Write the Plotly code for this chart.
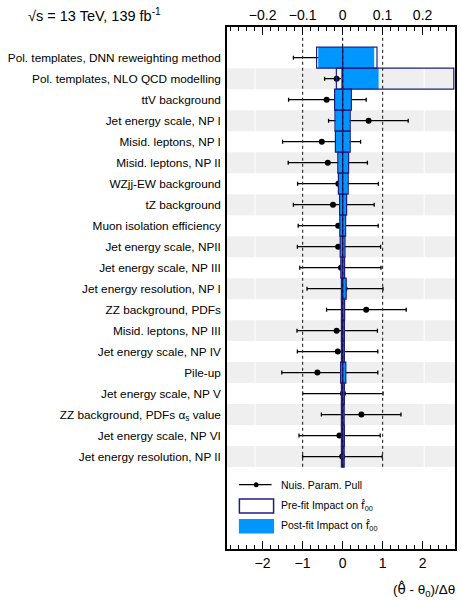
import plotly.graph_objects as go

labels = [
    "Pol. templates, DNN reweighting method",
    "Pol. templates, NLO QCD modelling",
    "ttV background",
    "Jet energy scale, NP I",
    "Misid. leptons, NP I",
    "Misid. leptons, NP II",
    "WZjj-EW background",
    "tZ background",
    "Muon isolation efficiency",
    "Jet energy scale, NPII",
    "Jet energy scale, NP III",
    "Jet energy resolution, NP I",
    "ZZ background, PDFs",
    "Misid. leptons, NP III",
    "Jet energy scale, NP IV",
    "Pile-up",
    "Jet energy scale, NP V",
    "ZZ background, PDFs α<sub>s</sub> value",
    "Jet energy scale, NP VI",
    "Jet energy resolution, NP II",
]
rows = list(range(len(labels)))

pull = [-0.39, -0.15, -0.40, 0.65, -0.52, -0.37, -0.105, -0.24, -0.11, -0.11,
        -0.04, 0.05, 0.59, -0.15, -0.12, -0.63, 0.01, 0.47, -0.08, -0.01]
pull_err_lo = [0.84, 0.30, 0.95, 1.00, 0.98, 0.99, 1.02, 0.99, 1.00, 1.02,
               1.03, 0.94, 0.99, 0.99, 1.01, 0.89, 1.01, 1.00, 1.01, 0.99]
pull_err_hi = [0.89, 0.46, 0.99, 0.99, 0.97, 0.99, 1.00, 1.03, 1.00, 1.06,
               1.00, 0.96, 1.00, 1.02, 1.00, 1.51, 1.00, 0.99, 1.02, 1.00]

prefit_up = [0.086, 0.278, 0.022, 0.019, 0.019, 0.015, 0.014, 0.010, 0.0075, 0.006,
             0.005, 0.009, 0.005, 0.0045, 0.0045, 0.008, 0.0045, 0.004, 0.0045, 0.004]
prefit_dn = [-0.065, -0.0156, -0.020, -0.019, -0.018, -0.012, -0.0105, -0.0075, -0.007, -0.006,
             -0.0045, -0.003, -0.003, -0.003, -0.003, -0.005, -0.003, -0.003, -0.003, -0.003]
postfit_up = [0.079, 0.090, 0.021, 0.018, 0.018, 0.014, 0.013, 0.0095, 0.007, 0.0055,
              0.0045, 0.009, 0.0045, 0.004, 0.004, 0.008, 0.004, 0.0035, 0.004, 0.0035]
postfit_dn = [-0.061, -0.003, -0.019, -0.018, -0.017, -0.011, -0.010, -0.007, -0.0065, -0.0055,
              -0.004, -0.0025, -0.0025, -0.0025, -0.0025, -0.0045, -0.0025, -0.0025, -0.0025, -0.0025]

pull_ticks = [-2, -1, 0, 1, 2]
impact_ticks = [-0.2, -0.1, 0, 0.1, 0.2]

W, H = 461, 600
L, R, T, B = 227, 4, 27, 51
PW, PH = W - L - R, H - T - B


def px2x(px):
    return (px - L) / PW


def px2y(py):
    return 1 - (py - T) / PH


FONT = "Liberation Sans, Arial, Helvetica, sans-serif"
HATFONT = "DejaVu Sans"
BLUE = "rgb(0,150,255)"
NAVY = "#1e1e82"

xr = [-2.89, 2.81]

fig = go.Figure()

for vals in (postfit_up, postfit_dn):
    fig.add_trace(go.Bar(
        y=rows, x=vals, base=0, orientation="h", width=1.0,
        marker=dict(color=BLUE, line=dict(width=0)),
        xaxis="x2", yaxis="y", showlegend=False, hoverinfo="skip"))
for vals in (prefit_up, prefit_dn):
    fig.add_trace(go.Bar(
        y=rows, x=vals, base=0, orientation="h", width=1.0,
        marker=dict(color="rgba(0,0,0,0)", line=dict(color=NAVY, width=1.2)),
        xaxis="x2", yaxis="y", showlegend=False, hoverinfo="skip"))

fig.add_trace(go.Scatter(
    x=pull, y=rows, mode="markers",
    marker=dict(color="black", size=6),
    error_x=dict(type="data", symmetric=False, array=pull_err_hi, arrayminus=pull_err_lo,
                 color="black", thickness=1.3, width=2),
    xaxis="x", yaxis="y", showlegend=False, hoverinfo="skip"))

shapes = []
# alternating grey bands
for i in rows:
    if i % 2 == 1:
        shapes.append(dict(type="rect", xref="paper", yref="y", x0=0, x1=1,
                           y0=i - 0.5, y1=i + 0.5, fillcolor="#efefef",
                           line=dict(width=0), layer="below"))
for xv in (-2.19, 2.04):
    shapes.append(dict(type="line", xref="x", yref="y", x0=xv, x1=xv,
                       y0=-0.5, y1=len(rows) - 0.5,
                       line=dict(color="white", width=1), layer="below"))
# reference lines
for xv in (-1, 1):
    shapes.append(dict(type="line", xref="x", yref="y", x0=xv, x1=xv,
                       y0=-0.95, y1=len(rows) - 0.45,
                       line=dict(color="#333333", width=1.2, dash="dot"), layer="above"))
shapes.append(dict(type="line", xref="x", yref="y", x0=0, x1=0,
                   y0=-0.95, y1=len(rows) - 0.45,
                   line=dict(color="#101040", width=1.2, dash="dot"), layer="above"))

# legend (manual)
shapes.append(dict(type="line", xref="paper", yref="paper",
                   x0=px2x(239), x1=px2x(272), y0=px2y(484.7), y1=px2y(484.7),
                   line=dict(color="black", width=1.3)))
shapes.append(dict(type="circle", xref="paper", yref="paper",
                   x0=px2x(254), x1=px2x(259), y0=px2y(482.2), y1=px2y(487.2),
                   fillcolor="black", line=dict(color="black", width=0)))
shapes.append(dict(type="rect", xref="paper", yref="paper",
                   x0=px2x(239.5), x1=px2x(274), y0=px2y(499), y1=px2y(513),
                   fillcolor="white", line=dict(color=NAVY, width=1.5)))
shapes.append(dict(type="rect", xref="paper", yref="paper",
                   x0=px2x(239), x1=px2x(274.5), y0=px2y(519), y1=px2y(533.5),
                   fillcolor=BLUE, line=dict(width=0)))

fhat = "<span style='font-family:%s'>f\u0302</span><sub>00</sub>" % HATFONT
thetahat = "<span style='font-family:%s'>θ\u0302</span>" % HATFONT
annotations = [
    dict(text="Nuis. Param. Pull", x=px2x(279), y=px2y(485), xref="paper", yref="paper",
         xanchor="left", yanchor="middle", showarrow=False, font=dict(size=10.5, family=FONT)),
    dict(text="Pre-fit Impact on " + fhat, x=px2x(279), y=px2y(506), xref="paper", yref="paper",
         xanchor="left", yanchor="middle", showarrow=False, font=dict(size=10.5, family=FONT)),
    dict(text="Post-fit Impact on " + fhat, x=px2x(279), y=px2y(526), xref="paper", yref="paper",
         xanchor="left", yanchor="middle", showarrow=False, font=dict(size=10.5, family=FONT)),
    dict(text="√s = 13 TeV, 139 fb<sup>-1</sup>", x=px2x(24), y=px2y(15), xref="paper", yref="paper",
         xanchor="left", yanchor="middle", showarrow=False, font=dict(size=14.5, family=FONT)),
    dict(text="(" + thetahat + " - θ<sub>0</sub>)/Δθ", x=px2x(459), y=px2y(589), xref="paper", yref="paper",
         xanchor="right", yanchor="middle", showarrow=False, font=dict(size=13.5, family=FONT)),
]

fig.update_layout(
    width=W, height=H,
    margin=dict(l=L, r=R, t=T, b=B, pad=0),
    paper_bgcolor="white", plot_bgcolor="white",
    barmode="overlay",
    font=dict(family=FONT, color="black"),
    shapes=shapes, annotations=annotations,
    showlegend=False,
    xaxis=dict(range=xr, tickvals=pull_ticks, ticks="inside", ticklen=8, tickwidth=1,
               tickcolor="black",
               minor=dict(ticks="inside", ticklen=4, dtick=0.2, tickcolor="black"),
               showline=True, linecolor="black", linewidth=1.5, showgrid=False,
               zeroline=False, tickfont=dict(size=14), fixedrange=True),
    xaxis2=dict(range=[xr[0] / 10, xr[1] / 10], overlaying="x", side="top",
                tickvals=impact_ticks, ticks="inside", ticklen=8, tickwidth=1,
                tickcolor="black",
                minor=dict(ticks="inside", ticklen=4, dtick=0.02, tickcolor="black"),
                showline=True, linecolor="black", linewidth=1.5, showgrid=False,
                zeroline=False, tickfont=dict(size=14), fixedrange=True),
    yaxis=dict(range=[23.4, -1.46], tickvals=rows, ticktext=labels, ticks="",
               showline=True, mirror=True, linecolor="black", linewidth=1.5,
               showgrid=False, zeroline=False, tickfont=dict(size=11.8),
               ticklabelstandoff=2, fixedrange=True),
)

fig.write_html("out.html")
